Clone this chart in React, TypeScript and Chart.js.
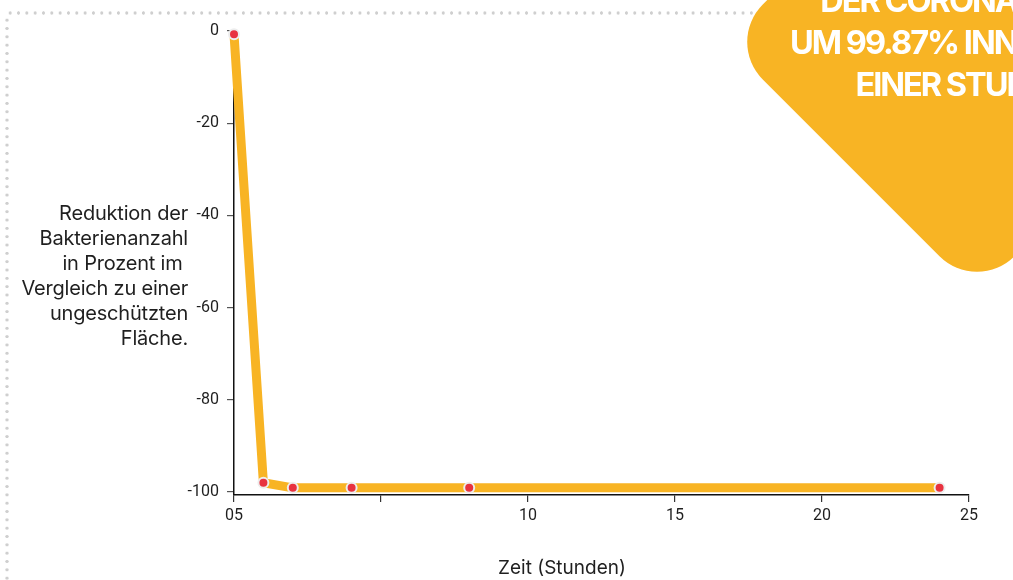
import React, { useEffect, useRef } from "react";
import { Chart, registerables } from "chart.js";

Chart.register(...registerables);

// ---- data ----
const hours = [0, 1, 2, 4, 8, 24];
const reduction = [-0.7, -98, -99.1, -99.1, -99.1, -99.1];
const xTickValues = [0, 5, 10, 15, 20, 25];
const xTickLabels = ["05", "", "10", "15", "20", "25"];
const yTickValues = [0, -20, -40, -60, -80, -100];
const yTickLabels = ["0", "-20", "-40", "-60", "-80", "-100"];
const yTitleLines = [
  "Reduktion der",
  "Bakterienanzahl",
  "in Prozent im\u00a0",
  "Vergleich zu einer",
  "ungeschützten",
  "Fläche.",
];
const xTitle = "Zeit (Stunden)";
const badgeLines = ["DER CORONAVIREN", "UM 99.87% INNERHALB", "EINER STUNDE"];

const YELLOW = "#F8B424";
const RED = "#E8323F";
const TEXT = "#1f1f1f";

export default function App() {
  const canvasRef = useRef<HTMLCanvasElement | null>(null);

  useEffect(() => {
    const canvas = canvasRef.current;
    if (!canvas) return;
    const tickFont = { family: "Roboto", size: 16, weight: "normal" as const };
    const chart = new Chart(canvas, {
      type: "line",
      data: {
        datasets: [
          {
            data: hours.map((h, i) => ({ x: h, y: reduction[i] })),
            borderColor: YELLOW,
            borderWidth: 9,
            borderCapStyle: "butt",
            borderJoinStyle: "round",
            pointRadius: 5,
            pointHoverRadius: 5,
            pointBackgroundColor: RED,
            pointBorderColor: "#EDEDED",
            pointBorderWidth: 2,
            tension: 0,
            clip: false as any,
          },
        ],
      },
      options: {
        responsive: false,
        animation: false,
        events: [],
        layout: { padding: { top: 31, right: 44, left: 0, bottom: 0 } },
        plugins: {
          legend: { display: false },
          tooltip: { enabled: false },
        },
        scales: {
          x: {
            type: "linear",
            min: 0,
            max: 25,
            afterBuildTicks: (s: any) => {
              s.ticks = xTickValues.map((v) => ({ value: v }));
            },
            afterFit: (s: any) => {
              s.height = 85;
            },
            ticks: {
              autoSkip: false,
              maxRotation: 0,
              padding: 4,
              color: TEXT,
              font: tickFont,
              callback: (v: any) => {
                const i = xTickValues.indexOf(Number(v));
                return i >= 0 ? xTickLabels[i] : "";
              },
            },
            grid: {
              drawOnChartArea: false,
              drawTicks: true,
              tickLength: 7,
              color: "#333",
              lineWidth: 1.2,
            },
            border: { display: true, color: "#111", width: 1.5 },
          },
          y: {
            type: "linear",
            min: -100.65,
            max: 0,
            afterBuildTicks: (s: any) => {
              s.ticks = yTickValues.map((v) => ({ value: v }));
            },
            afterFit: (s: any) => {
              s.width = 234;
            },
            ticks: {
              autoSkip: false,
              padding: 8,
              color: TEXT,
              font: tickFont,
              callback: (v: any) => {
                const i = yTickValues.indexOf(Number(v));
                return i >= 0 ? yTickLabels[i] : "";
              },
            },
            grid: {
              drawOnChartArea: false,
              drawTicks: true,
              tickLength: 7,
              color: "#555",
              lineWidth: 1.2,
            },
            border: { display: true, color: "#111", width: 1.5 },
          },
        },
      },
    });
    return () => chart.destroy();
  }, []);

  const textFont = "Inter, 'Noto Sans', sans-serif";

  return (
    <div
      style={{
        position: "absolute",
        left: 0,
        top: 0,
        width: 1013,
        height: 580,
        overflow: "hidden",
        background: "#fff",
      }}
    >
      {/* dotted frame */}
      <div
        style={{
          position: "absolute",
          left: 6.2,
          top: 10.7,
          width: 1013,
          height: 4,
          backgroundImage:
            "radial-gradient(circle at center, #cfcfcf 1.4px, transparent 1.9px)",
          backgroundSize: "8.33px 4px",
          backgroundRepeat: "repeat-x",
        }}
      />
      <div
        style={{
          position: "absolute",
          left: 4.7,
          top: 15.8,
          width: 4,
          height: 570,
          backgroundImage:
            "radial-gradient(circle at center, #cfcfcf 1.4px, transparent 1.9px)",
          backgroundSize: "4px 8.33px",
          backgroundRepeat: "repeat-y",
        }}
      />
      <canvas
        ref={canvasRef}
        width={1013}
        height={580}
        style={{ position: "absolute", left: 0, top: 0, width: 1013, height: 580 }}
      />
      {/* y-axis title */}
      <div
        style={{
          position: "absolute",
          right: 1013 - 188,
          top: 200.5,
          textAlign: "right",
          fontFamily: textFont,
          fontSize: 20,
          lineHeight: "25px",
          letterSpacing: -0.2,
          color: TEXT,
          whiteSpace: "pre",
        }}
      >
        {yTitleLines.map((l, i) => (
          <div key={i}>{l}</div>
        ))}
      </div>
      {/* x-axis title */}
      <div
        style={{
          position: "absolute",
          left: 562 - 150,
          width: 300,
          top: 554.5,
          textAlign: "center",
          fontFamily: textFont,
          fontSize: 19,
          lineHeight: "25px",
          color: TEXT,
        }}
      >
        {xTitle}
      </div>
      {/* badge */}
      <div
        style={{
          position: "absolute",
          left: 977 - 178,
          top: 42 - 178,
          width: 356,
          height: 356,
          borderRadius: 53,
          background: YELLOW,
          transform: "rotate(45deg)",
        }}
      />
      <div
        style={{
          position: "absolute",
          left: 962 - 250,
          width: 500,
          top: -20,
          textAlign: "center",
          fontFamily: textFont,
          fontWeight: 700,
          fontSize: 32.5,
          lineHeight: "42px",
          letterSpacing: -2,
          color: "#fff",
          whiteSpace: "pre",
        }}
      >
        {badgeLines.map((l, i) => (
          <div key={i}>{l}</div>
        ))}
      </div>
    </div>
  );
}
